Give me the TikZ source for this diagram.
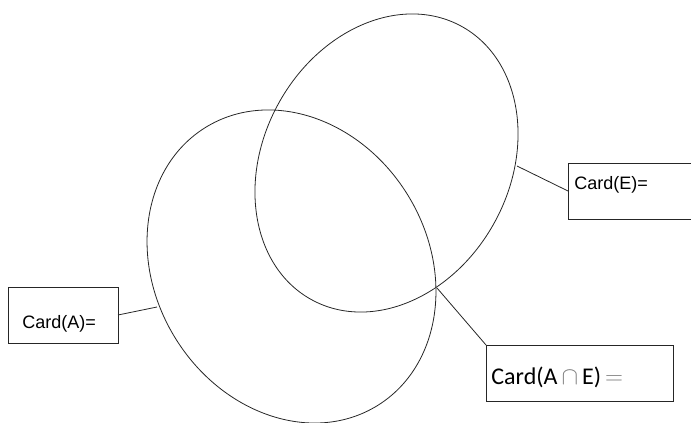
\documentclass[tikz,border=0pt]{standalone}
\usepackage{fontspec}
\setmainfont{Liberation Sans}
\newfontfamily\calfont{Carlito}
\usetikzlibrary{shapes.geometric}
\begin{document}
\begin{tikzpicture}[x=1pt,y=1pt, line width=0.8pt,
 setshape/.style={draw=black!85, ellipse, inner sep=0pt, outer sep=0pt},
 cardbox/.style={draw=black!85, rectangle, inner sep=0pt, outer sep=0pt, minimum height=56pt},
 conn/.style={draw=black!85},
 cardtext/.style={font=\fontsize{18}{20}\selectfont, inner sep=0pt, anchor=base west},
 bigtext/.style={font=\calfont\fontsize{24}{26}\selectfont, inner sep=0pt, anchor=base west}]
\useasboundingbox (0,0) rectangle (691,423);
\node[setshape, minimum width=311.8pt, minimum height=246.6pt, rotate=61.3] (E) at (386.5,260) {};
\node[setshape, minimum width=327pt, minimum height=273pt, rotate=121.7] (A) at (291.5,156.5) {};
\coordinate (pA) at (157,116);
\coordinate (pE) at (517,257);
\coordinate (pAE) at (437,135);
\node[cardbox, minimum width=110pt] (boxA) at (63,108) {};
\node[cardbox, minimum width=125pt] (boxE) at (630.5,232) {};
\node[cardbox, minimum width=187pt] (boxAE) at (579.5,50) {};
\node[cardtext] (tA) at (22,94) {Card(A)=};
\node[cardtext] (tE) at (574,233) {Card(E)=};
\node[bigtext] (tAE) at (491,38) {Card(A\,{\color{gray}$\cap$}\,E)\,{\color{gray}$=$}};
\draw[conn] (boxA.east) -- (pA);
\draw[conn] (boxE.west) -- (pE);
\draw[conn] (boxAE.north west) -- (pAE);
\end{tikzpicture}
\end{document}
